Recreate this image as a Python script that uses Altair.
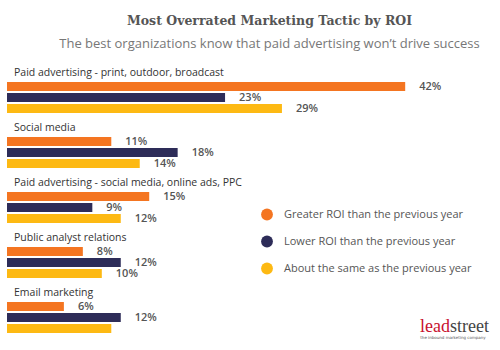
import altair as alt
import pandas as pd

categories = [
    "Paid advertising - print, outdoor, broadcast",
    "Social media",
    "Paid advertising - social media, online ads, PPC",
    "Public analyst relations",
    "Email marketing",
]
series = [
    "Greater ROI than the previous year",
    "Lower ROI than the previous year",
    "About the same as the previous year",
]
greater = [42, 11, 15, 8, 6]
lower = [23, 18, 9, 12, 12]
same = [29, 14, 12, 10, 11]
shown = [[True, True, True], [True, True, True], [True, True, True],
         [True, True, True], [True, True, False]]
colors = ["#f47521", "#2d2c58", "#fdb913"]

rows = []
for i, c in enumerate(categories):
    for j, (s, vals) in enumerate(zip(series, [greater, lower, same])):
        rows.append({"category": c, "series": s, "value": vals[i],
                     "label": f"{vals[i]}%", "shown": shown[i][j]})
df = pd.DataFrame(rows)
cat_df = pd.DataFrame({"category": categories, "series": ["label"] * len(categories)})

slots = ["label"] + series

yenc = alt.Y("category:N", sort=categories,
             scale=alt.Scale(domain=categories, paddingInner=0.2, paddingOuter=0.1),
             axis=None)
yoff = alt.YOffset("series:N",
                   scale=alt.Scale(domain=slots, paddingInner=0.2, paddingOuter=0.1))
xenc = alt.X("value:Q", scale=alt.Scale(domain=[0, 52]), axis=None)

bars = alt.Chart(df).mark_bar().encode(
    x=xenc, y=yenc, yOffset=yoff,
    color=alt.Color("series:N", sort=series,
                    scale=alt.Scale(domain=series, range=colors),
                    legend=alt.Legend(title=None)),
)

values = alt.Chart(df).transform_filter("datum.shown").mark_text(
    align="left", baseline="middle", dx=14, font="Open Sans",
    fontSize=11, fontWeight=600, color="#555555",
).encode(x=xenc, y=yenc, yOffset=yoff, text="label:N")

cat_labels = alt.Chart(cat_df).mark_text(
    align="left", baseline="middle", dx=7, dy=-2.5, font="Open Sans",
    fontSize=10.5, color="#333333",
).encode(x=alt.value(0), y=yenc, yOffset=yoff, text="category:N")

logo_lead = alt.Chart(pd.DataFrame({"t": ["lead"]})).mark_text(
    align="right", baseline="alphabetic", font="Liberation Serif",
    fontSize=18, color="#c8102e",
).encode(x=alt.value(443), y=alt.value(267.5), text="t:N")
logo_street = alt.Chart(pd.DataFrame({"t": ["street"]})).mark_text(
    align="left", baseline="alphabetic", font="Liberation Serif",
    fontSize=18, color="#444444",
).encode(x=alt.value(443), y=alt.value(267.5), text="t:N")
logo_tag = alt.Chart(pd.DataFrame({"t": ["the inbound marketing company"]})).mark_text(
    align="center", baseline="middle", font="DejaVu Sans",
    fontSize=4, color="#555555",
).encode(x=alt.value(446), y=alt.value(273.5), text="t:N")

chart = alt.layer(bars, values, cat_labels, logo_lead, logo_street, logo_tag).properties(
    width=493, height=275,
    autosize=alt.AutoSizeParams(type="none"),
    padding={"left": 7, "top": 64.5, "right": 0, "bottom": 10.5},
    title=alt.TitleParams(
        text="Most Overrated Marketing Tactic by ROI",
        subtitle="The best organizations know that paid advertising won\u2019t drive success",
        anchor="middle", dx=16, offset=14,
        font="DejaVu Serif", fontSize=12.5, fontWeight="bold", color="#555555",
        subtitleFont="Open Sans", subtitleFontSize=13, subtitleColor="#777777",
        subtitlePadding=10,
    ),
).configure_view(stroke=None).configure_legend(
    orient="none", legendX=254, legendY=144, symbolType="circle",
    symbolSize=140, symbolStrokeWidth=0, labelFont="Open Sans", labelFontSize=11,
    labelColor="#555555", rowPadding=15, labelOffset=11, padding=0,
    labelLimit=300,
)

chart.save("out.html", embed_options={"renderer": "svg", "actions": False})
